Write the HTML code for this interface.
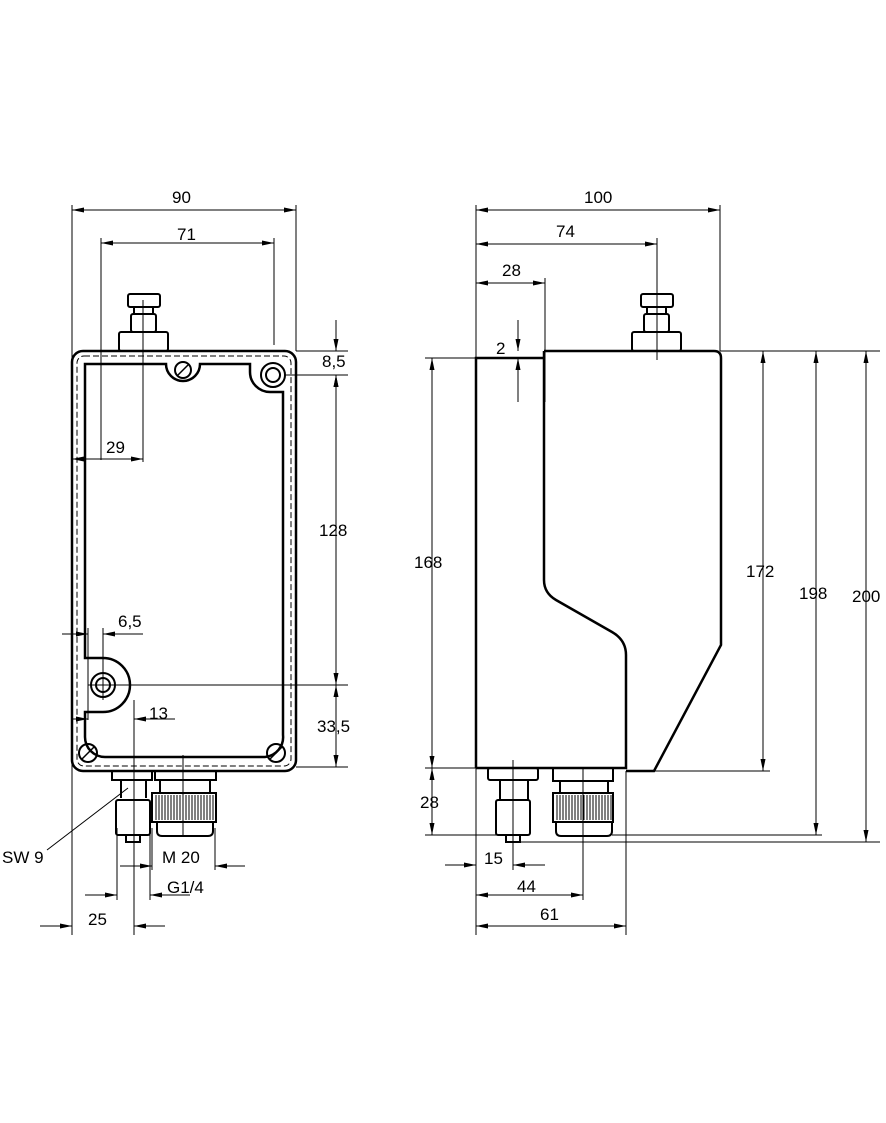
<!DOCTYPE html>
<html><head><meta charset="utf-8"><style>body{margin:0;background:#fff}svg{display:block}text{font-family:"Liberation Sans",sans-serif;font-size:17px;fill:#000}</style></head><body>
<svg width="886" height="1123" viewBox="0 0 886 1123">
<defs>
<marker id="a" viewBox="0 0 12 6" refX="12" refY="3" markerWidth="12" markerHeight="6" orient="auto-start-reverse" markerUnits="userSpaceOnUse"><path d="M0,0.5 L12,3 L0,5.5z" fill="#000"/></marker>
</defs>
<g fill="none" stroke="#000">
<rect x="72" y="351" width="224" height="420" rx="11" stroke-width="2.5"/>
<rect x="77" y="356" width="214" height="410" rx="7" stroke-width="1" stroke-dasharray="6,3"/>
<path stroke-width="2.5" d="M85,364 H166 A17,17 0 0 0 200,364 H250 V372 A20,20 0 0 0 270,392 H283 V735 A20,20 0 0 1 265,757 H105 A20,20 0 0 1 85,737 V712 H103 A27,27 0 0 0 103,658 H85 Z"/>
<circle cx="183" cy="370" r="8" stroke-width="2"/><line x1="178" y1="375" x2="188" y2="365" stroke-width="1.5"/>
<circle cx="273" cy="375" r="12" stroke-width="2"/><circle cx="273" cy="375" r="7" stroke-width="2"/>
<circle cx="103" cy="685" r="12" stroke-width="2"/><circle cx="103" cy="685" r="7" stroke-width="2"/>
<circle cx="88" cy="753" r="9" stroke-width="2"/><line x1="82" y1="759" x2="94" y2="747" stroke-width="1.5"/>
<circle cx="276" cy="753" r="9" stroke-width="2"/><line x1="270" y1="759" x2="282" y2="747" stroke-width="1.5"/>
<g stroke-width="2"><rect x="119" y="332" width="49" height="19" rx="2"/><rect x="131" y="314" width="25" height="18" rx="2"/><rect x="128" y="294" width="32" height="13" rx="2"/><line x1="134" y1="307" x2="134" y2="314"/><line x1="153" y1="307" x2="153" y2="314"/></g>
<g stroke-width="2"><rect x="112" y="771" width="40" height="9"/><rect x="155" y="771" width="61" height="9"/>
<path d="M121,780 V798 M146,780 V798"/><rect x="116" y="800" width="34" height="35" rx="2"/><rect x="126" y="835" width="14" height="7"/>
<path d="M160,780 V793 M210,780 V793"/><rect x="152" y="793" width="64" height="29"/><path d="M157,822 V831 Q157,836 162,836 H208 Q213,836 213,831 V822"/></g>
<path stroke-width="1" d="M156,795 V820 M159,795 V820 M162,795 V820 M165,795 V820 M168,795 V820 M171,795 V820 M174,795 V820 M177,795 V820 M180,795 V820 M183,795 V820 M186,795 V820 M189,795 V820 M192,795 V820 M195,795 V820 M198,795 V820 M201,795 V820 M204,795 V820 M207,795 V820 M210,795 V820 M213,795 V820"/>
<path stroke-width="2.5" d="M476,768 V358 H544 M544,351 H714 Q721,351 721,358 V645 L654,771 H626 M476,768 H626 V655 Q626,640 612,632 L556,600 Q544,593 544,580 V351"/>
<g stroke-width="2"><rect x="632" y="332" width="49" height="19" rx="2"/><rect x="644" y="314" width="25" height="18" rx="2"/><rect x="641" y="294" width="32" height="13" rx="2"/><line x1="647" y1="307" x2="647" y2="314"/><line x1="666" y1="307" x2="666" y2="314"/>
<rect x="488" y="768" width="50" height="12" rx="2"/><path d="M500,780 V800 M528,780 V800"/><rect x="496" y="800" width="34" height="35" rx="2"/><rect x="506" y="835" width="14" height="7"/>
<rect x="553" y="768" width="60" height="13"/><path d="M560,781 V793 M608,781 V793"/><rect x="553" y="793" width="60" height="29"/><path d="M556,822 V831 Q556,836 561,836 H607 Q612,836 612,831 V822"/></g>
<path stroke-width="1" d="M557,795 V820 M560,795 V820 M563,795 V820 M566,795 V820 M569,795 V820 M572,795 V820 M575,795 V820 M578,795 V820 M581,795 V820 M584,795 V820 M587,795 V820 M590,795 V820 M593,795 V820 M596,795 V820 M599,795 V820 M602,795 V820 M605,795 V820 M608,795 V820 M611,795 V820"/>
<g stroke-width="1">
<path d="M72,205 V935 M296,205 V351 M101,238 V460 M274,238 V345 M143,300 V462 M88,628 V720 M103,628 V700 M134,700 V935 M117,828 V900 M150,828 V900 M152,828 V870 M215,828 V870 M183,755 V836 M296,351 H348 M285,375 H348 M88,685 H348 M296,767 H348 M47,850 L128,788"/>
<path d="M476,205 V935 M720,205 V351 M657,238 V360 M545,278 V402 M720,351 H880 M425,358 H476 M425,768 H476 M425,835 H500 M654,771 H770 M612,835 H822 M520,842 H880 M513,760 V870 M583,768 V900 M626,771 V935 M518,320 V345 M518,364 V402"/>
<g marker-end="url(#a)" marker-start="url(#a)">
<line x1="72" y1="210" x2="296" y2="210"/><line x1="101" y1="243" x2="274" y2="243"/><line x1="72" y1="459" x2="143" y2="459"/>
<line x1="336" y1="375" x2="336" y2="685"/><line x1="336" y1="685" x2="336" y2="767"/>
<line x1="476" y1="210" x2="720" y2="210"/><line x1="476" y1="244" x2="657" y2="244"/><line x1="476" y1="283" x2="545" y2="283"/>
<line x1="432" y1="358" x2="432" y2="768"/><line x1="432" y1="768" x2="432" y2="835"/><line x1="763" y1="351" x2="763" y2="771"/>
<line x1="816" y1="351" x2="816" y2="835"/><line x1="866" y1="351" x2="866" y2="842"/><line x1="476" y1="895" x2="583" y2="895"/><line x1="476" y1="926" x2="626" y2="926"/>
</g>
<g marker-end="url(#a)">
<line x1="336" y1="320" x2="336" y2="351"/><line x1="336" y1="400" x2="336" y2="375"/>
<line x1="62" y1="634" x2="88" y2="634"/><line x1="143" y1="634" x2="103" y2="634"/>
<line x1="72" y1="719" x2="88" y2="719"/><line x1="175" y1="719" x2="134" y2="719"/>
<line x1="40" y1="926" x2="72" y2="926"/><line x1="165" y1="926" x2="134" y2="926"/>
<line x1="85" y1="895" x2="117" y2="895"/><line x1="190" y1="895" x2="150" y2="895"/>
<line x1="120" y1="866" x2="152" y2="866"/><line x1="245" y1="866" x2="215" y2="866"/>
<line x1="518" y1="320" x2="518" y2="351"/><line x1="518" y1="400" x2="518" y2="358"/>
<line x1="445" y1="865" x2="476" y2="865"/><line x1="545" y1="865" x2="513" y2="865"/>
</g>
</g>
</g>
<text x="172" y="203">90</text><text x="177" y="240">71</text><text x="106" y="453">29</text>
<text x="322" y="367">8,5</text><text x="319" y="536">128</text><text x="317" y="732">33,5</text>
<text x="118" y="627">6,5</text><text x="149" y="719">13</text>
<text x="2" y="863">SW 9</text><text x="162" y="863">M 20</text><text x="167" y="893">G1/4</text><text x="88" y="925">25</text>
<text x="584" y="203">100</text><text x="556" y="237">74</text><text x="502" y="276">28</text><text x="496" y="354">2</text>
<text x="414" y="568">168</text><text x="746" y="577">172</text><text x="799" y="599">198</text><text x="852" y="602">200</text>
<text x="420" y="808">28</text><text x="484" y="864">15</text><text x="517" y="892">44</text><text x="540" y="920">61</text>
</svg>
</body></html>
